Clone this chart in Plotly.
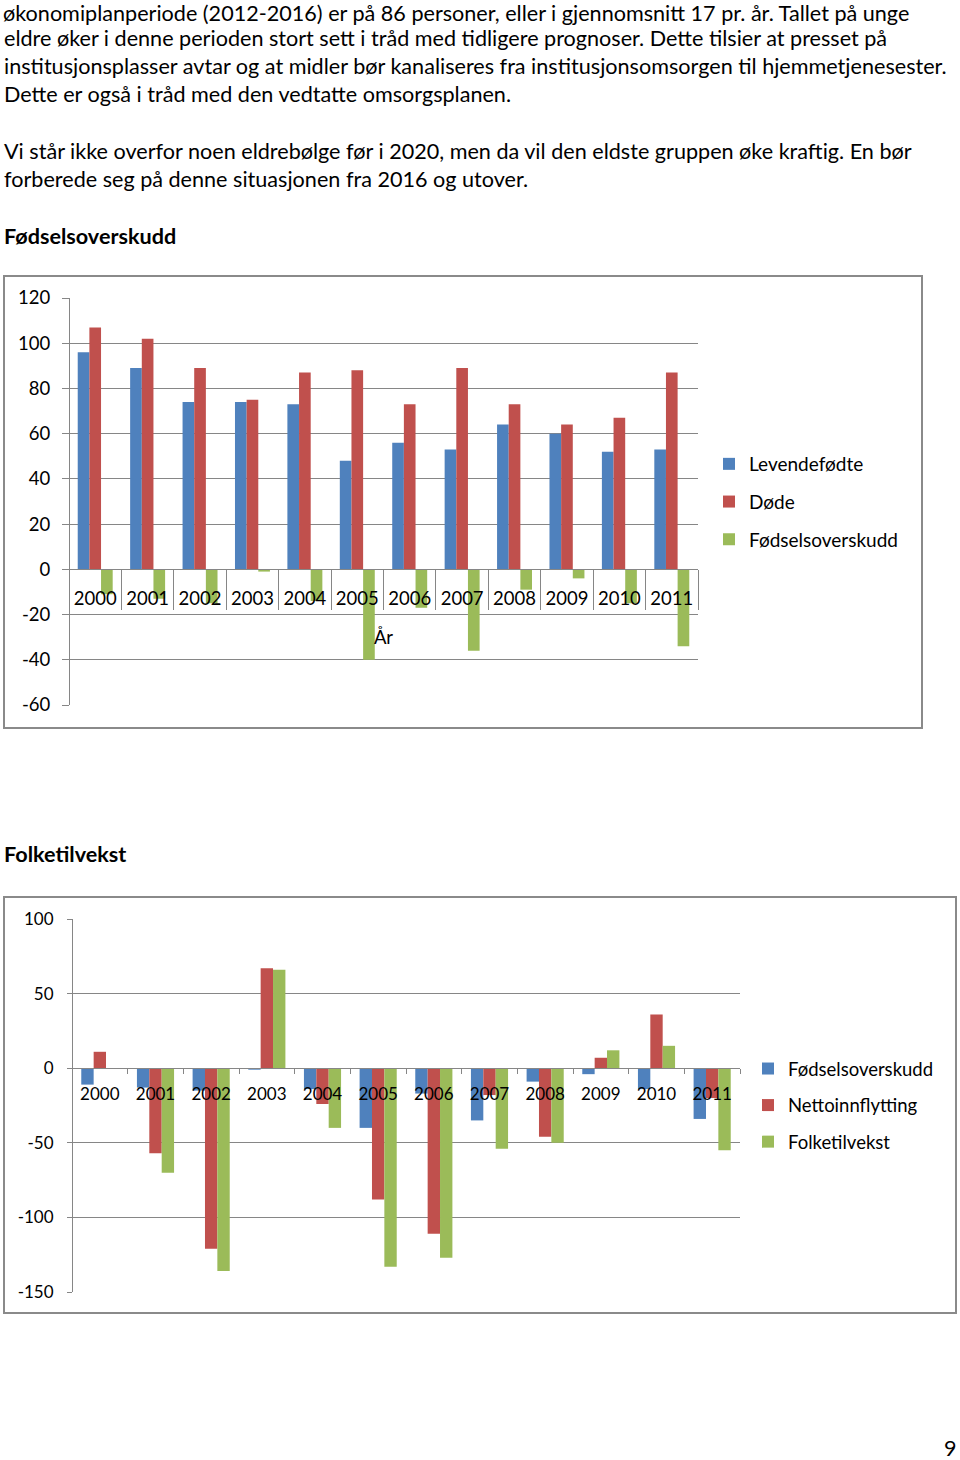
import plotly.graph_objects as go

# ---------------- data ----------------
years = ["2000", "2001", "2002", "2003", "2004", "2005",
         "2006", "2007", "2008", "2009", "2010", "2011"]

# Chart 1: Fødselsoverskudd
levendefodte = [96, 89, 74, 74, 73, 48, 56, 53, 64, 60, 52, 53]
dode = [107, 102, 89, 75, 87, 88, 73, 89, 73, 64, 67, 87]
fodselsoverskudd_1 = [-11, -13, -15, -1, -14, -40, -17, -36, -9, -4, -15, -34]

# Chart 2: Folketilvekst
fodselsoverskudd_2 = [-11, -13, -15, -1, -14, -40, -17, -35, -9, -4, -14, -34]
nettoinnflytting = [11, -57, -121, 67, -24, -88, -111, -18, -46, 7, 36, -20]
folketilvekst = [0, -70, -136, 66, -40, -133, -127, -54, -50, 12, 15, -55]

y1_ticks = [-60, -40, -20, 0, 20, 40, 60, 80, 100, 120]
y2_ticks = [-150, -100, -50, 0, 50, 100]

body_lines = [
    "økonomiplanperiode (2012-2016) er på 86 personer, eller i gjennomsnitt 17 pr. år. Tallet på unge",
    "eldre øker i denne perioden stort sett i tråd med tidligere prognoser. Dette tilsier at presset på",
    "institusjonsplasser avtar og at midler bør kanaliseres fra institusjonsomsorgen til hjemmetjenesester.",
    "Dette er også i tråd med den vedtatte omsorgsplanen.",
    "",
    "Vi står ikke overfor noen eldrebølge før i 2020, men da vil den eldste gruppen øke kraftig. En bør",
    "forberede seg på denne situasjonen fra 2016 og utover.",
]
heading_1 = "Fødselsoverskudd"
heading_2 = "Folketilvekst"
x_title_1 = "År"
page_number = "9"

# ---------------- style ----------------
W, H = 960, 1460
BLUE, RED, GREEN = "#4F81BD", "#C0504D", "#9BBB59"
GRID = "#868686"
FRAME = "#8a8a8a"
FONT = "Lato, 'Open Sans', sans-serif"
BODY_SIZE = 21.6


def fx(px):
    return px / W


def fy(py):
    return 1 - py / H


idx = list(range(len(years)))
bounds = [i - 0.5 for i in range(len(years) + 1)]

fig = go.Figure()

series1 = [("Levendefødte", levendefodte, BLUE),
           ("Døde", dode, RED),
           ("Fødselsoverskudd", fodselsoverskudd_1, GREEN)]
for name, vals, col in series1:
    fig.add_trace(go.Bar(x=idx, y=vals, name=name, marker=dict(color=col, line_width=0),
                         xaxis="x", yaxis="y", legend="legend", legendgroup="a" + name,
                         hoverinfo="skip"))

series2 = [("Fødselsoverskudd", fodselsoverskudd_2, BLUE),
           ("Nettoinnflytting", nettoinnflytting, RED),
           ("Folketilvekst", folketilvekst, GREEN)]
for name, vals, col in series2:
    fig.add_trace(go.Bar(x=idx, y=vals, name=name, marker=dict(color=col, line_width=0),
                         xaxis="x2", yaxis="y2", legend="legend2", legendgroup="b" + name,
                         hoverinfo="skip"))

# domains
y1_dom = [fy(705), fy(298)]
x1_dom = [fx(69), fx(698)]
y2_dom = [fy(1292), fy(919)]
x2_dom = [fx(72), fx(740)]
y1_rng = [min(y1_ticks), max(y1_ticks)]
y2_rng = [min(y2_ticks), max(y2_ticks)]


def zero_pos(dom, rng):
    return dom[0] + (0 - rng[0]) / (rng[1] - rng[0]) * (dom[1] - dom[0])


tickfont = dict(family=FONT, size=18.5, color="#000")
tickfont2 = dict(family=FONT, size=17, color="#000")

fig.update_layout(
    template="none",
    width=W, height=H,
    margin=dict(l=0, r=0, t=0, b=0),
    paper_bgcolor="white", plot_bgcolor="rgba(0,0,0,0)",
    font=dict(family=FONT, color="#000"),
    barmode="group", bargap=0.333, bargroupgap=0,
    showlegend=True,
    xaxis=dict(domain=x1_dom, range=[-0.5, len(years) - 0.5], anchor="free",
               position=zero_pos(y1_dom, y1_rng),
               showgrid=False, zeroline=False, showline=True, linecolor=GRID, linewidth=1,
               tickmode="array", tickvals=idx, ticktext=years, ticks="",
               tickfont=tickfont, ticklabelstandoff=12,
               minor=dict(tickmode="array", tickvals=bounds, ticks="outside", ticklen=40,
                          tickcolor=GRID, tickwidth=1, showgrid=False),
               title=dict(text=x_title_1, font=dict(family=FONT, size=18.5), standoff=23),
               fixedrange=True),
    yaxis=dict(domain=y1_dom, range=y1_rng, anchor="free", position=x1_dom[0],
               tickmode="array", tickvals=y1_ticks, ticktext=[str(v) for v in y1_ticks],
               showgrid=True, gridcolor=GRID, gridwidth=1, zeroline=False,
               showline=True, linecolor=GRID, linewidth=1,
               ticks="outside", ticklen=7, tickcolor=GRID,
               tickfont=tickfont, ticklabelstandoff=8, fixedrange=True),
    xaxis2=dict(domain=x2_dom, range=[-0.5, len(years) - 0.5], anchor="free",
                position=zero_pos(y2_dom, y2_rng),
                showgrid=False, zeroline=False, showline=True, linecolor=GRID, linewidth=1,
                tickmode="array", tickvals=idx, ticktext=years, ticks="",
                tickfont=tickfont2, ticklabelstandoff=10,
                minor=dict(tickmode="array", tickvals=bounds, ticks="outside", ticklen=5,
                           tickcolor=GRID, tickwidth=1, showgrid=False),
                fixedrange=True),
    yaxis2=dict(domain=y2_dom, range=y2_rng, anchor="free", position=x2_dom[0],
                tickmode="array", tickvals=y2_ticks, ticktext=[str(v) for v in y2_ticks],
                showgrid=True, gridcolor=GRID, gridwidth=1, zeroline=False,
                showline=True, linecolor=GRID, linewidth=1,
                ticks="outside", ticklen=5, tickcolor=GRID,
                tickfont=tickfont2, ticklabelstandoff=10, fixedrange=True),
    legend=dict(x=fx(709), y=fy(445), xanchor="left", yanchor="top",
                font=dict(family=FONT, size=19, color="#000"),
                traceorder="grouped", tracegroupgap=10, bgcolor="rgba(0,0,0,0)",
                borderwidth=0),
    legend2=dict(x=fx(748), y=fy(1050), xanchor="left", yanchor="top",
                 font=dict(family=FONT, size=18.5, color="#000"),
                 traceorder="grouped", tracegroupgap=9.5, bgcolor="rgba(0,0,0,0)",
                 borderwidth=0),
)

# chart frames
fig.add_shape(type="rect", xref="paper", yref="paper", x0=fx(4), x1=fx(922), y0=fy(728), y1=fy(276),
              line=dict(color=FRAME, width=2), fillcolor="rgba(0,0,0,0)", layer="below")
fig.add_shape(type="rect", xref="paper", yref="paper", x0=fx(4), x1=fx(956), y0=fy(1313), y1=fy(897),
              line=dict(color=FRAME, width=2), fillcolor="rgba(0,0,0,0)", layer="below")

# body text
line_centers = [11, 38.5, 66, 94, 122, 151, 179]
for i, (txt, cy) in enumerate(zip(body_lines, line_centers)):
    if not txt:
        continue
    if i == 0:
        # first line: anchor at the top edge so its box stays inside the page
        fig.add_annotation(text=txt, xref="paper", yref="paper", x=fx(2), y=1,
                           xanchor="left", yanchor="top", showarrow=False, borderpad=0,
                           yshift=1.5,
                           font=dict(family=FONT, size=BODY_SIZE, color="#000"))
    else:
        fig.add_annotation(text=txt, xref="paper", yref="paper", x=fx(2), y=fy(cy),
                           xanchor="left", yanchor="middle", showarrow=False,
                           font=dict(family=FONT, size=BODY_SIZE, color="#000"))

for txt, cy in [(heading_1, 236), (heading_2, 854)]:
    fig.add_annotation(text="<b>" + txt + "</b>", xref="paper", yref="paper", x=fx(2), y=fy(cy),
                       xanchor="left", yanchor="middle", showarrow=False,
                       font=dict(family=FONT, size=BODY_SIZE, color="#000"))

fig.add_annotation(text=page_number, xref="paper", yref="paper", x=fx(950), y=fy(1448),
                   xanchor="center", yanchor="middle", showarrow=False,
                   font=dict(family=FONT, size=BODY_SIZE, color="#000"))

fig.write_html("out.html", config={"displayModeBar": False, "staticPlot": True},
               post_script="document.body.style.margin='0';document.body.style.padding='0';"
                           "document.documentElement.style.overflow='hidden';")
